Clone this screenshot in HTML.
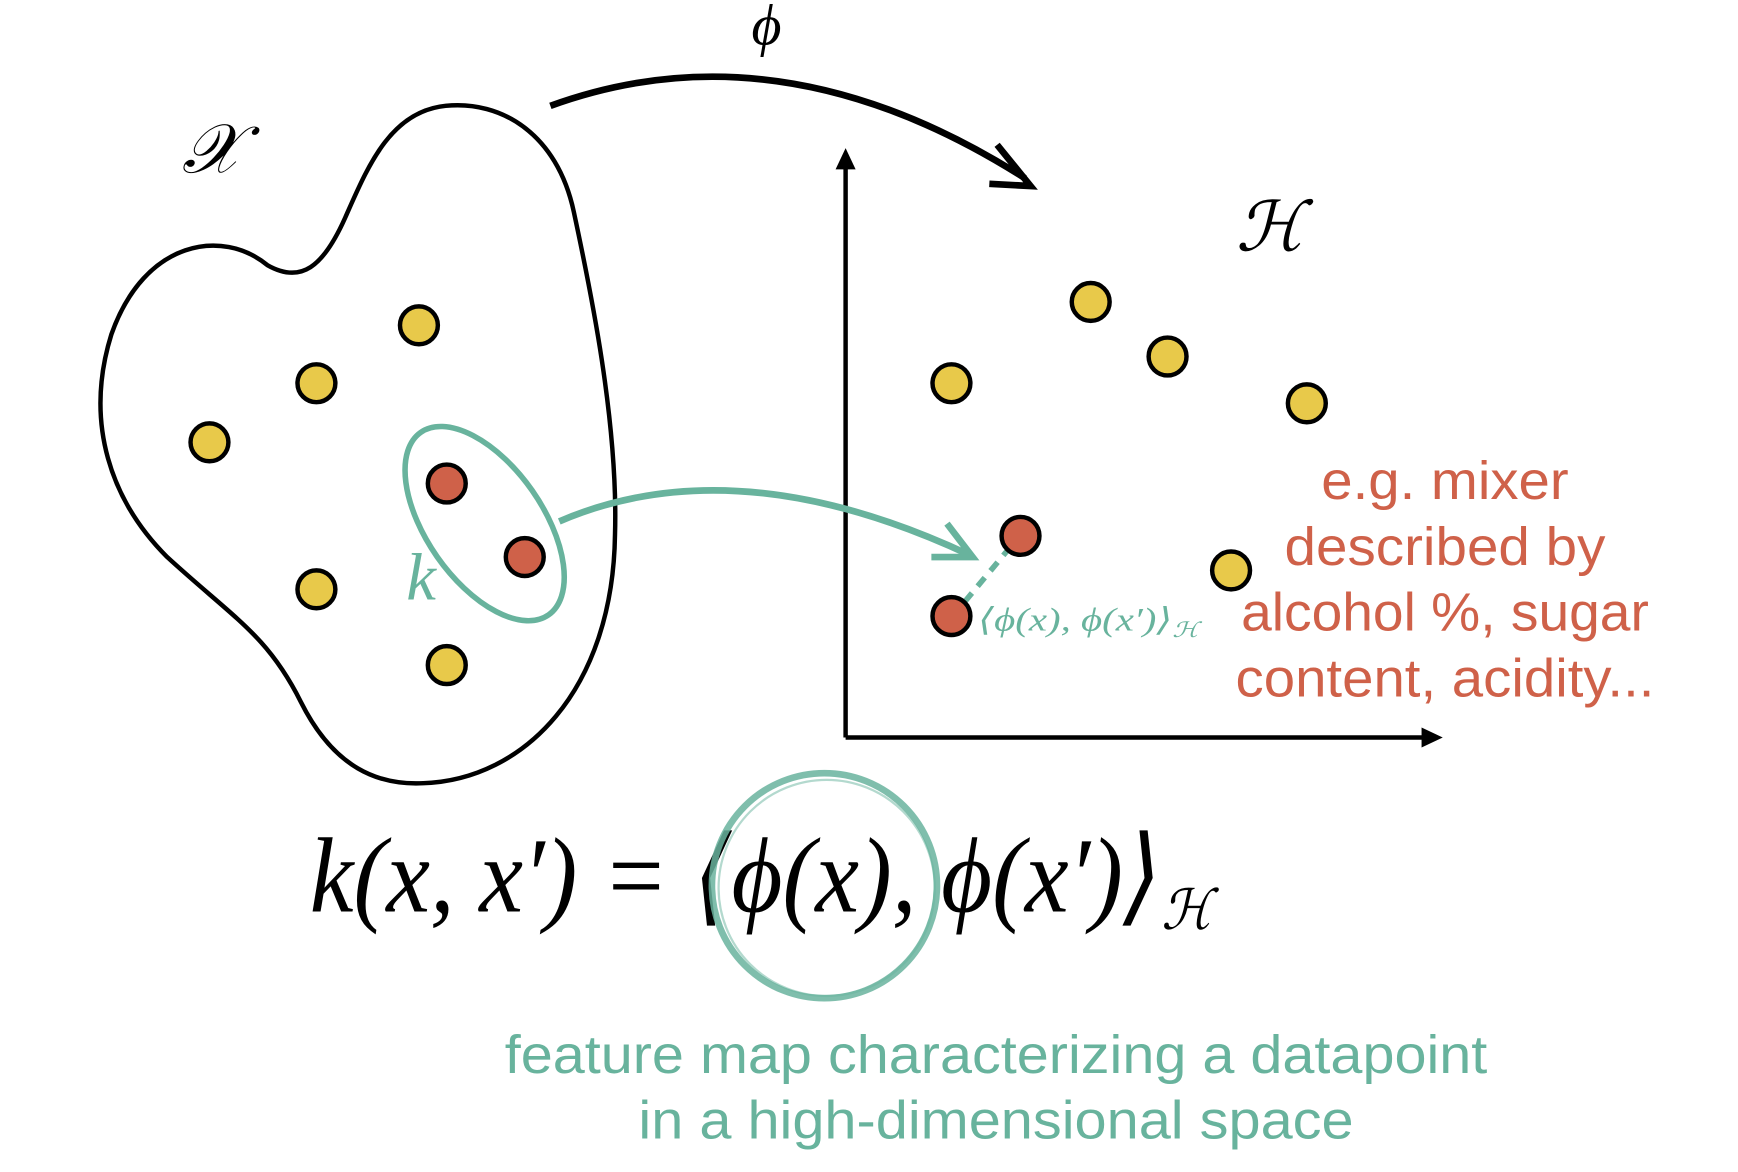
<!DOCTYPE html>
<html><head><meta charset="utf-8"><style>
html,body{margin:0;padding:0;background:#fff;width:1738px;height:1172px;overflow:hidden}
svg{display:block}
.s{font-family:"Liberation Sans",sans-serif}
.m{font-family:"Liberation Serif","DejaVu Serif",serif;font-style:italic}
</style></head><body>
<svg width="1738" height="1172" viewBox="0 0 1560 1052" xmlns="http://www.w3.org/2000/svg">
<path d="M240,238 C200,205 130,215 100,300 C75,380 100,450 150,500 C210,555 240,570 270,630 C300,690 340,705 380,703 C470,700 550,620 552,480 C555,380 530,260 515,190 C500,120 450,90 400,95 C350,100 330,150 310,195 C290,240 270,255 240,238 Z" fill="none" stroke="#000" stroke-width="4"/>
<path d="M494,95 Q700,20 920,160" fill="none" stroke="#000" stroke-width="6"/>
<path d="M895,130 L925,167 L888,165" fill="none" stroke="#000" stroke-width="6"/>
<text x="688" y="40" class="m" font-size="52" text-anchor="middle">ϕ</text>
<text x="190" y="155" class="m" font-size="62" text-anchor="middle">𝒳</text>
<text x="1140" y="225" class="m" font-size="62" text-anchor="middle">ℋ</text>
<path d="M759,662 L759,150" stroke="#000" stroke-width="4"/>
<path d="M750,152 L759,133 L768,152 z" fill="#000"/>
<path d="M759,662 L1278,662" stroke="#000" stroke-width="4"/>
<path d="M1276,653 L1295,662 L1276,671 z" fill="#000"/>
<ellipse cx="435" cy="470" rx="52" ry="100" transform="rotate(-35 435 470)" fill="none" stroke="#68b39d" stroke-width="5"/>
<text x="378" y="538" class="m" font-size="60" fill="#68b39d" text-anchor="middle">k</text>
<path d="M502,468 Q660,400 870,498" fill="none" stroke="#68b39d" stroke-width="6"/>
<path d="M850,470 L873,500 L836,500" fill="none" stroke="#68b39d" stroke-width="6"/>
<path d="M866,540 L906,492" stroke="#68b39d" stroke-width="5" stroke-dasharray="10,8"/>
<text x="878" y="566" class="m" font-size="29" fill="#68b39d" font-style="normal" textLength="198" lengthAdjust="spacingAndGlyphs">⟨<tspan font-style="italic">ϕ</tspan>(<tspan font-style="italic">x</tspan>), <tspan font-style="italic">ϕ</tspan>(<tspan font-style="italic">x</tspan>′)⟩<tspan font-size="19" dy="6">ℋ</tspan></text>
<g stroke="#000" stroke-width="4" fill="#e8c94a">
<circle cx="376" cy="292" r="17"/><circle cx="284" cy="344" r="17"/><circle cx="188" cy="397" r="17"/><circle cx="284" cy="529" r="17"/><circle cx="401" cy="597" r="17"/>
<circle cx="979" cy="271" r="17"/><circle cx="1048" cy="320" r="17"/><circle cx="854" cy="344" r="17"/><circle cx="1173" cy="362" r="17"/><circle cx="1105" cy="512" r="17"/>
</g>
<g stroke="#000" stroke-width="4" fill="#cf6149">
<circle cx="401" cy="434" r="17"/><circle cx="471" cy="500" r="17"/><circle cx="916" cy="481" r="17"/><circle cx="854" cy="553" r="17"/>
</g>
<g class="s" font-size="48" fill="#cf6149" text-anchor="middle" lengthAdjust="spacingAndGlyphs">
<text x="1297" y="448" textLength="222" lengthAdjust="spacingAndGlyphs">e.g. mixer</text>
<text x="1297" y="507" textLength="288" lengthAdjust="spacingAndGlyphs">described by</text>
<text x="1297" y="566" textLength="366" lengthAdjust="spacingAndGlyphs">alcohol %, sugar</text>
<text x="1297" y="625" textLength="376" lengthAdjust="spacingAndGlyphs">content, acidity...</text>
</g>
<text x="278" y="818" class="m" font-size="96" textLength="810" lengthAdjust="spacingAndGlyphs">k(x, x′) = ⟨ϕ(x), ϕ(x′)⟩<tspan font-size="50" dy="16">ℋ</tspan></text>
<circle cx="740" cy="795" r="101" fill="none" stroke="#68b39d" stroke-width="6" opacity="0.85"/>
<circle cx="742" cy="797" r="97" fill="none" stroke="#68b39d" stroke-width="2" opacity="0.5"/>
<g class="s" font-size="48" fill="#68b39d" text-anchor="middle">
<text x="894" y="963" textLength="882" lengthAdjust="spacingAndGlyphs">feature map characterizing a datapoint</text>
<text x="894" y="1022" textLength="642" lengthAdjust="spacingAndGlyphs">in a high-dimensional space</text>
</g>
</svg>
</body></html>
